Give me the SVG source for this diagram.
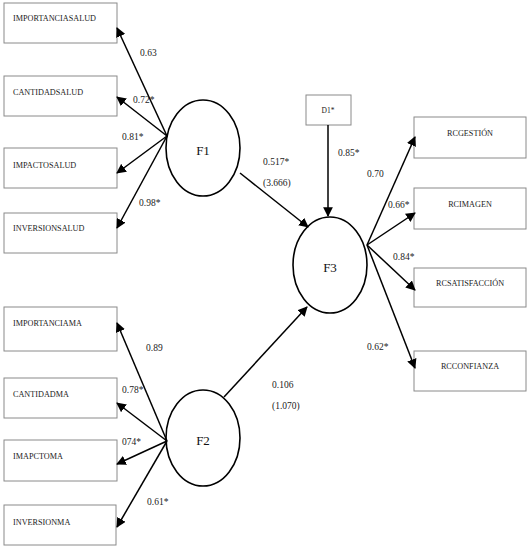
<svg xmlns="http://www.w3.org/2000/svg" width="532" height="550" viewBox="0 0 532 550">
<defs>
<style>
.box{fill:#fff;stroke:#8a8a8a;stroke-width:1}
.lat{fill:#fff;stroke:#000;stroke-width:1.6}
.bt{font-family:"Liberation Serif",serif;font-size:8.2px;fill:#222}
.lt{font-family:"Liberation Serif",serif;font-size:13px;fill:#111;text-anchor:middle}
.nt{font-family:"Liberation Serif",serif;font-size:9.5px;fill:#222}
.ar{stroke:#000;stroke-width:1.5;fill:none;marker-end:url(#ah)}
</style>
<marker id="ah" viewBox="0 0 10 10" refX="9" refY="5" markerWidth="6.5" markerHeight="6.5" markerUnits="strokeWidth" orient="auto">
<path d="M0,0 L10,5 L0,10 z" fill="#000"/>
</marker>
</defs>
<rect width="532" height="550" fill="#fff"/>
<g id="n-importanciasalud"><rect class="box" x="4" y="3" width="113" height="40"/><text class="bt" x="13" y="21">IMPORTANCIASALUD</text></g>
<g id="n-cantidadsalud"><rect class="box" x="4" y="76" width="113" height="40"/><text class="bt" x="13" y="95">CANTIDADSALUD</text></g>
<g id="n-impactosalud"><rect class="box" x="4" y="148" width="113" height="40"/><text class="bt" x="13" y="168">IMPACTOSALUD</text></g>
<g id="n-inversionsalud"><rect class="box" x="4" y="213" width="113" height="40"/><text class="bt" x="13" y="231">INVERSIONSALUD</text></g>
<g id="n-importanciama"><rect class="box" x="4" y="307" width="113" height="44"/><text class="bt" x="13" y="326">IMPORTANCIAMA</text></g>
<g id="n-cantidadma"><rect class="box" x="4" y="378" width="113" height="40"/><text class="bt" x="13" y="397">CANTIDADMA</text></g>
<g id="n-imapctoma"><rect class="box" x="4" y="440" width="113" height="41"/><text class="bt" x="13" y="459">IMAPCTOMA</text></g>
<g id="n-inversionma"><rect class="box" x="4" y="505" width="112" height="40"/><text class="bt" x="13" y="525">INVERSIONMA</text></g>
<g id="n-f1"><ellipse class="lat" cx="203" cy="148" rx="37" ry="48"/><text class="lt" x="203" y="155">F1</text></g>
<g id="n-f2"><ellipse class="lat" cx="203" cy="438" rx="37" ry="48"/><text class="lt" x="203" y="445">F2</text></g>
<g id="n-f3"><ellipse class="lat" cx="330" cy="265" rx="37" ry="48"/><text class="lt" x="330" y="272">F3</text></g>
<g id="n-d1"><rect class="box" x="306" y="95" width="45" height="30"/><text class="bt" x="328" y="113" text-anchor="middle" style="font-size:7.5px">D1*</text></g>
<g id="n-rcgestion"><rect class="box" x="414" y="117" width="112" height="41"/><text class="bt" x="470" y="136" text-anchor="middle">RCGESTIÓN</text></g>
<g id="n-rcimagen"><rect class="box" x="414" y="188" width="112" height="41"/><text class="bt" x="470" y="207" text-anchor="middle">RCIMAGEN</text></g>
<g id="n-rcsatisfaccion"><rect class="box" x="414" y="268" width="112" height="39"/><text class="bt" x="470" y="286" text-anchor="middle">RCSATISFACCIÓN</text></g>
<g id="n-rcconfianza"><rect class="box" x="414" y="351" width="112" height="40"/><text class="bt" x="470" y="369" text-anchor="middle">RCCONFIANZA</text></g>
<g id="connectors">
<line class="ar" x1="167" y1="136" x2="117" y2="28"/>
<line class="ar" x1="167" y1="136" x2="117" y2="97"/>
<line class="ar" x1="167" y1="136" x2="117" y2="173"/>
<line class="ar" x1="167" y1="136" x2="117" y2="228"/>
<line class="ar" x1="167" y1="441" x2="117" y2="323"/>
<line class="ar" x1="167" y1="441" x2="117" y2="403"/>
<line class="ar" x1="167" y1="441" x2="117" y2="464"/>
<line class="ar" x1="167" y1="441" x2="117" y2="527"/>
<line class="ar" x1="240" y1="173" x2="308" y2="227"/>
<line class="ar" x1="224" y1="397" x2="307" y2="307"/>
<line class="ar" x1="328" y1="125" x2="328" y2="216"/>
<line class="ar" x1="367" y1="245" x2="415" y2="137"/>
<line class="ar" x1="367" y1="245" x2="415" y2="213"/>
<line class="ar" x1="367" y1="245" x2="415" y2="290"/>
<line class="ar" x1="367" y1="245" x2="415" y2="368"/>
</g>
<g id="labels">
<text class="nt" x="140" y="56">0.63</text>
<text class="nt" x="133" y="103">0.72*</text>
<text class="nt" x="122" y="140">0.81*</text>
<text class="nt" x="139" y="206">0.98*</text>
<text class="nt" x="146" y="351">0.89</text>
<text class="nt" x="122" y="393">0.78*</text>
<text class="nt" x="122" y="445">074*</text>
<text class="nt" x="147" y="505">0.61*</text>
<text class="nt" x="263" y="165">0.517*</text>
<text class="nt" x="263" y="186">(3.666)</text>
<text class="nt" x="338" y="156">0.85*</text>
<text class="nt" x="272" y="388">0.106</text>
<text class="nt" x="272" y="409">(1.070)</text>
<text class="nt" x="367" y="177">0.70</text>
<text class="nt" x="388" y="208">0.66*</text>
<text class="nt" x="393" y="260">0.84*</text>
<text class="nt" x="367" y="350">0.62*</text>
</g>
</svg>
